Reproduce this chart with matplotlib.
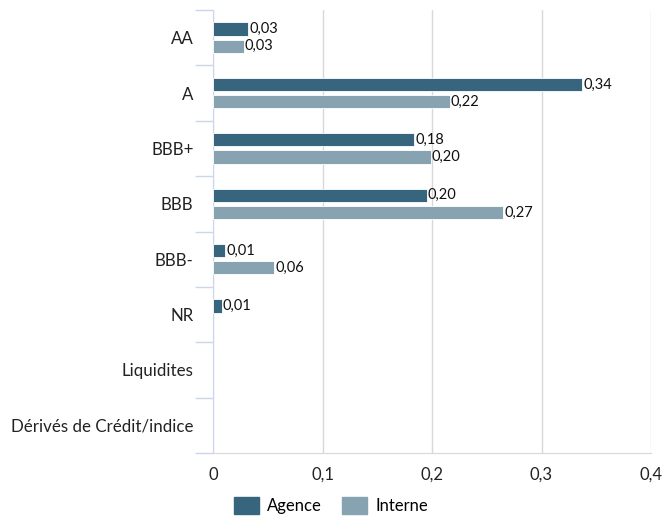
import matplotlib
matplotlib.use("Agg")
import matplotlib.pyplot as plt
import numpy as np
from matplotlib.patches import Patch

categories = ["AA", "A", "BBB+", "BBB", "BBB-", "NR", "Liquidites", "Dérivés de Crédit/indice"]
agence = [0.032, 0.337, 0.184, 0.195, 0.011, 0.008, None, None]
interne = [0.028, 0.216, 0.199, 0.265, 0.056, None, None, None]
agence_labels = ["0,03", "0,34", "0,18", "0,20", "0,01", "0,01", None, None]
interne_labels = ["0,03", "0,22", "0,20", "0,27", "0,06", None, None, None]
xticks = [0, 0.1, 0.2, 0.3, 0.4]
xticklabels = ["0", "0,1", "0,2", "0,3", "0,4"]

plt.rcParams['font.family'] = ['Lato', 'DejaVu Sans']

c_ag = "#37657d"
c_in = "#87a3b1"

fig = plt.figure(figsize=(6.69, 5.16), dpi=100)
ax = fig.add_axes([213/669, 1 - 453/516, (651-213)/669, (453-10)/516])

n = len(categories)
y = np.arange(n)
h = 0.24
off = 0.155
for i in range(n):
    if agence[i] is not None:
        ax.barh(y[i] - off, agence[i], height=h, color=c_ag, edgecolor="white", linewidth=0.6, zorder=3)
        ax.text(agence[i] + 0.001, y[i] - off, agence_labels[i], va="center", ha="left", fontsize=10.5, color="#111111")
    if interne[i] is not None:
        ax.barh(y[i] + off, interne[i], height=h, color=c_in, edgecolor="white", linewidth=0.6, zorder=3)
        ax.text(interne[i] + 0.001, y[i] + off, interne_labels[i], va="center", ha="left", fontsize=10.5, color="#111111")

ax.set_xlim(0, 0.4)
ax.set_ylim(n - 0.5, -0.5)
ax.set_xticks(xticks)
ax.set_xticklabels(xticklabels, fontsize=12, color="#222222")
ax.set_yticks(y)
ax.set_yticklabels(categories, fontsize=12.2, color="#222222")
ax.tick_params(axis="y", length=0, pad=14)
ax.tick_params(axis="x", length=0, pad=10)
ax.set_yticks(np.arange(-0.5, n, 1), minor=True)
ax.tick_params(axis="y", which="minor", length=13, color="#ccd6eb", width=1)
ax.grid(axis="x", color="#d8d8d8", linewidth=1, zorder=0)
for s in ["top", "right"]:
    ax.spines[s].set_visible(False)
ax.spines["left"].set_color("#ccd6eb")
ax.spines["bottom"].set_color("#d8d8d8")

handles = [Patch(color=c_ag, label="Agence"), Patch(color=c_in, label="Interne")]
fig.legend(handles=handles, loc="lower center", bbox_to_anchor=(0.5 - 0.005, -0.025), ncol=2, frameon=False,
           fontsize=12, handlelength=1.5, handleheight=1.2, columnspacing=1.2, handletextpad=0.5)

fig.savefig("out.png", dpi=100)
